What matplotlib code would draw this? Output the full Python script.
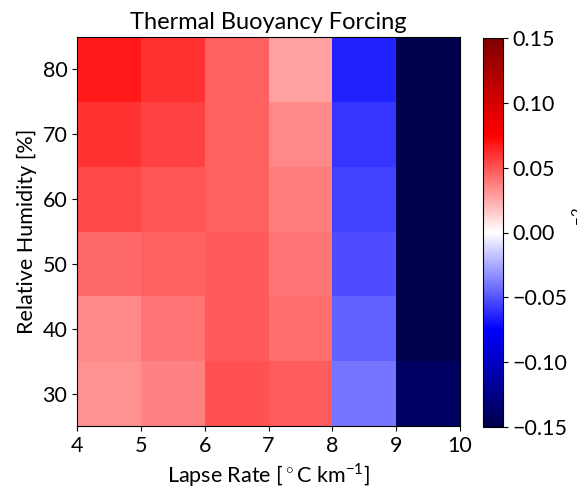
import numpy as np
import matplotlib
matplotlib.use("Agg")
import matplotlib.pyplot as plt

plt.rcParams['font.family'] = ['Lato', 'DejaVu Sans']
plt.rcParams['mathtext.fontset'] = 'custom'
plt.rcParams['mathtext.rm'] = 'Lato'
plt.rcParams['axes.unicode_minus'] = True

lapse_edges = [4, 5, 6, 7, 8, 9, 10]
rh_edges = [25, 35, 45, 55, 65, 75, 85]
rh_ticks = [30, 40, 50, 60, 70, 80]

# rows: RH 30, 40, 50, 60, 70, 80 ; columns: lapse rate 4.5 ... 9.5
row_rh30 = [0.032, 0.037, 0.051, 0.047, -0.040, -0.140]
row_rh40 = [0.035, 0.040, 0.049, 0.043, -0.046, -0.160]
row_rh50 = [0.044, 0.046, 0.049, 0.041, -0.052, -0.160]
row_rh60 = [0.053, 0.050, 0.046, 0.038, -0.056, -0.160]
row_rh70 = [0.060, 0.056, 0.046, 0.034, -0.059, -0.160]
row_rh80 = [0.0675, 0.060, 0.046, 0.028, -0.065, -0.160]

values = np.array([row_rh30, row_rh40, row_rh50, row_rh60, row_rh70, row_rh80])
cbar_ticks = [-0.15, -0.10, -0.05, 0.0, 0.05, 0.10, 0.15]
cbar_ticklabels = ['\u22120.15', '\u22120.10', '\u22120.05', '0.00', '0.05', '0.10', '0.15']

fig = plt.figure(figsize=(5.77, 4.91), dpi=100)
ax = fig.add_axes([77/577, 1 - 426/491, (460 - 77)/577, (426 - 37)/491])
cax = fig.add_axes([483/577, 1 - 427/491, 20/577, (427 - 38)/491])

mesh = ax.pcolormesh(lapse_edges, rh_edges, values, cmap='seismic', vmin=-0.15, vmax=0.15)
ax.set_xticks(lapse_edges)
ax.set_yticks(rh_ticks)
ax.tick_params(labelsize=15.5)
ax.set_xlabel(r'Lapse Rate [$^\circ$C km$^{-1}$]', fontsize=15.5)
ax.set_ylabel('Relative Humidity [%]', fontsize=15.5)
ax.set_title('Thermal Buoyancy Forcing', fontsize=17)

cb = fig.colorbar(mesh, cax=cax, ticks=cbar_ticks)
cb.ax.tick_params(labelsize=15.5)
cb.ax.set_yticklabels(cbar_ticklabels)
cb.set_label(r'm s$^{-2}$', fontsize=15.5, labelpad=3)

fig.savefig('out.png', dpi=100)
